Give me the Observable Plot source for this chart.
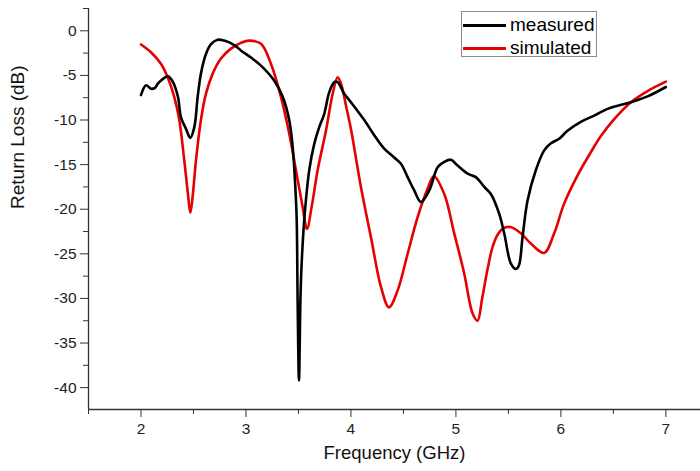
<!DOCTYPE html>
<html>
<head>
<meta charset="utf-8">
<script src="https://cdn.jsdelivr.net/npm/d3@7"></script>
<script src="https://cdn.jsdelivr.net/npm/@observablehq/plot@0.6"></script>
<style>
  html, body { margin: 0; padding: 0; background: #fff; }
  #wrap { position: relative; width: 700px; height: 471px; font-family: "Liberation Sans", Arial, sans-serif; }
  #legend { position: absolute; left: 461px; top: 11px; width: 134px; height: 44px; border: 1px solid #8a8a8a; background: #fff; }
  .row { position: absolute; left: 0; height: 23px; width: 134px; }
  .sw { position: absolute; left: 1px; top: 12px; width: 43px; height: 3px; }
  .lab { position: absolute; left: 48px; top: 2px; font-size: 19px; line-height: 22px; color: #000; white-space: nowrap; }
</style>
</head>
<body>
<div id="wrap"><div id="chart"></div><div id="legend"></div></div>
<script>
const seriesNames = ["measured", "simulated"];
const seriesColors = ["#000000", "#e60000"];

const freqMeasured = [2.000,2.048,2.095,2.133,2.162,2.219,2.257,2.305,2.352,2.381,2.429,2.470,2.508,2.540,2.571,2.619,2.667,2.730,2.793,2.889,2.952,3.048,3.143,3.270,3.350,3.412,3.445,3.467,3.483,3.492,3.505,3.519,3.529,3.550,3.571,3.603,3.650,3.698,3.746,3.793,3.841,3.873,3.936,4.000,4.127,4.222,4.317,4.412,4.476,4.540,4.603,4.667,4.746,4.826,4.889,4.952,5.016,5.111,5.190,5.270,5.333,5.412,5.460,5.524,5.571,5.600,5.635,5.683,5.762,5.841,5.905,5.984,6.063,6.190,6.317,6.445,6.667,6.826,7.000];
const lossMeasured = [-7.2,-6.1,-6.5,-6.4,-5.9,-5.3,-5.1,-5.75,-7.4,-9.7,-11.0,-12.0,-10.8,-7.4,-4.8,-2.6,-1.5,-1.0,-1.1,-1.6,-2.2,-3.0,-3.9,-5.6,-7.4,-10.0,-13.0,-16.8,-21.0,-30.0,-39.2,-30.0,-26.5,-22.0,-19.0,-15.6,-12.7,-10.8,-9.3,-6.9,-5.75,-5.75,-7.05,-8.0,-10.0,-11.7,-13.2,-14.2,-14.9,-16.4,-17.9,-19.2,-17.9,-15.3,-14.7,-14.45,-15.1,-16.0,-16.4,-17.5,-18.3,-20.5,-22.7,-26.1,-26.7,-26.3,-23.1,-19.0,-15.6,-13.4,-12.6,-12.1,-11.2,-10.2,-9.5,-8.75,-8.0,-7.35,-6.3];

const freqSimulated = [2.000,2.095,2.190,2.254,2.317,2.365,2.412,2.450,2.470,2.492,2.524,2.571,2.619,2.683,2.762,2.857,2.952,3.031,3.143,3.238,3.333,3.412,3.476,3.540,3.581,3.629,3.683,3.762,3.826,3.873,3.905,3.960,4.000,4.095,4.190,4.286,4.362,4.445,4.540,4.635,4.730,4.790,4.889,4.984,5.079,5.159,5.206,5.250,5.300,5.350,5.400,5.450,5.520,5.619,5.714,5.841,5.936,6.030,6.159,6.286,6.381,6.508,6.667,6.826,7.000];
const lossSimulated = [-1.53,-2.4,-3.7,-5.2,-7.4,-10.0,-14.5,-18.6,-20.4,-18.6,-14.5,-10.0,-7.05,-4.8,-3.1,-2.0,-1.35,-1.1,-1.45,-3.7,-7.4,-11.5,-15.6,-19.75,-22.2,-19.5,-15.6,-11.2,-7.05,-5.2,-5.9,-8.8,-11.0,-17.5,-23.1,-28.7,-31.0,-29.1,-25.0,-20.9,-17.7,-16.3,-18.3,-22.7,-27.2,-31.7,-32.5,-30.0,-26.8,-24.2,-22.8,-22.15,-22.0,-22.7,-23.85,-24.9,-22.7,-19.4,-16.2,-13.6,-11.8,-9.9,-8.0,-6.75,-5.7];

const xMajorTicks = [2, 3, 4, 5, 6, 7];
const xMinorTicks = [1.5, 2.5, 3.5, 4.5, 5.5, 6.5];
const yMajorTicks = [0, -5, -10, -15, -20, -25, -30, -35, -40];
const yMinorTicks = [2.5, -2.5, -7.5, -12.5, -17.5, -22.5, -27.5, -32.5, -37.5];
const xDomain = [1.5, 7.33];
const yDomain = [-42.45, 2.5];
const xTitle = "Frequency (GHz)";
const yTitle = "Return Loss (dB)";

const measured = freqMeasured.map((f, i) => ({f, v: lossMeasured[i], s: seriesNames[0]}));
const simulated = freqSimulated.map((f, i) => ({f, v: lossSimulated[i], s: seriesNames[1]}));

const chart = Plot.plot({
  width: 700,
  height: 471,
  marginLeft: 88,
  marginRight: 0,
  marginTop: 8,
  marginBottom: 62,
  style: {fontFamily: '"Liberation Sans", Arial, sans-serif', background: "transparent", color: "#222", overflow: "visible"},
  x: {domain: xDomain},
  y: {domain: yDomain},
  marks: [
    Plot.axisX({ticks: xMinorTicks, tickSize: 5, tickFormat: null, text: null, label: null, stroke: "#333"}),
    Plot.axisX({ticks: xMajorTicks, tickSize: 8, tickPadding: 5, tickFormat: d => String(d), fontSize: 15.5, label: null, stroke: "#333", fill: "#222"}),
    Plot.axisY({ticks: yMinorTicks, tickSize: 5, tickFormat: null, text: null, label: null, stroke: "#333"}),
    Plot.axisY({ticks: yMajorTicks, tickSize: 8, tickPadding: 4, tickFormat: d => String(d), fontSize: 15.5, label: null, stroke: "#333", fill: "#222"}),
    Plot.ruleX([xDomain[0]], {stroke: "#333", strokeWidth: 1.3}),
    Plot.ruleY([yDomain[0]], {stroke: "#333", strokeWidth: 1.3}),
    Plot.line(simulated, {x: "f", y: "v", stroke: seriesColors[1], strokeWidth: 2.6, curve: "catmull-rom"}),
    Plot.line(measured, {x: "f", y: "v", stroke: seriesColors[0], strokeWidth: 2.6, curve: "catmull-rom"}),
    Plot.text([yTitle], {text: d => d, frameAnchor: "left", dx: -71, rotate: -90, fontSize: 19, fill: "#111"}),
    Plot.text([xTitle], {text: d => d, frameAnchor: "bottom", dy: 49, fontSize: 18.5, fill: "#111"})
  ]
});
document.getElementById("chart").appendChild(chart);

const legend = document.getElementById("legend");
seriesNames.forEach((name, i) => {
  const row = document.createElement("div");
  row.className = "row";
  row.style.top = (i * 23) + "px";
  const sw = document.createElement("div");
  sw.className = "sw";
  sw.style.background = seriesColors[i];
  const lab = document.createElement("div");
  lab.className = "lab";
  lab.textContent = name;
  row.appendChild(sw);
  row.appendChild(lab);
  legend.appendChild(row);
});
</script>
</body>
</html>
